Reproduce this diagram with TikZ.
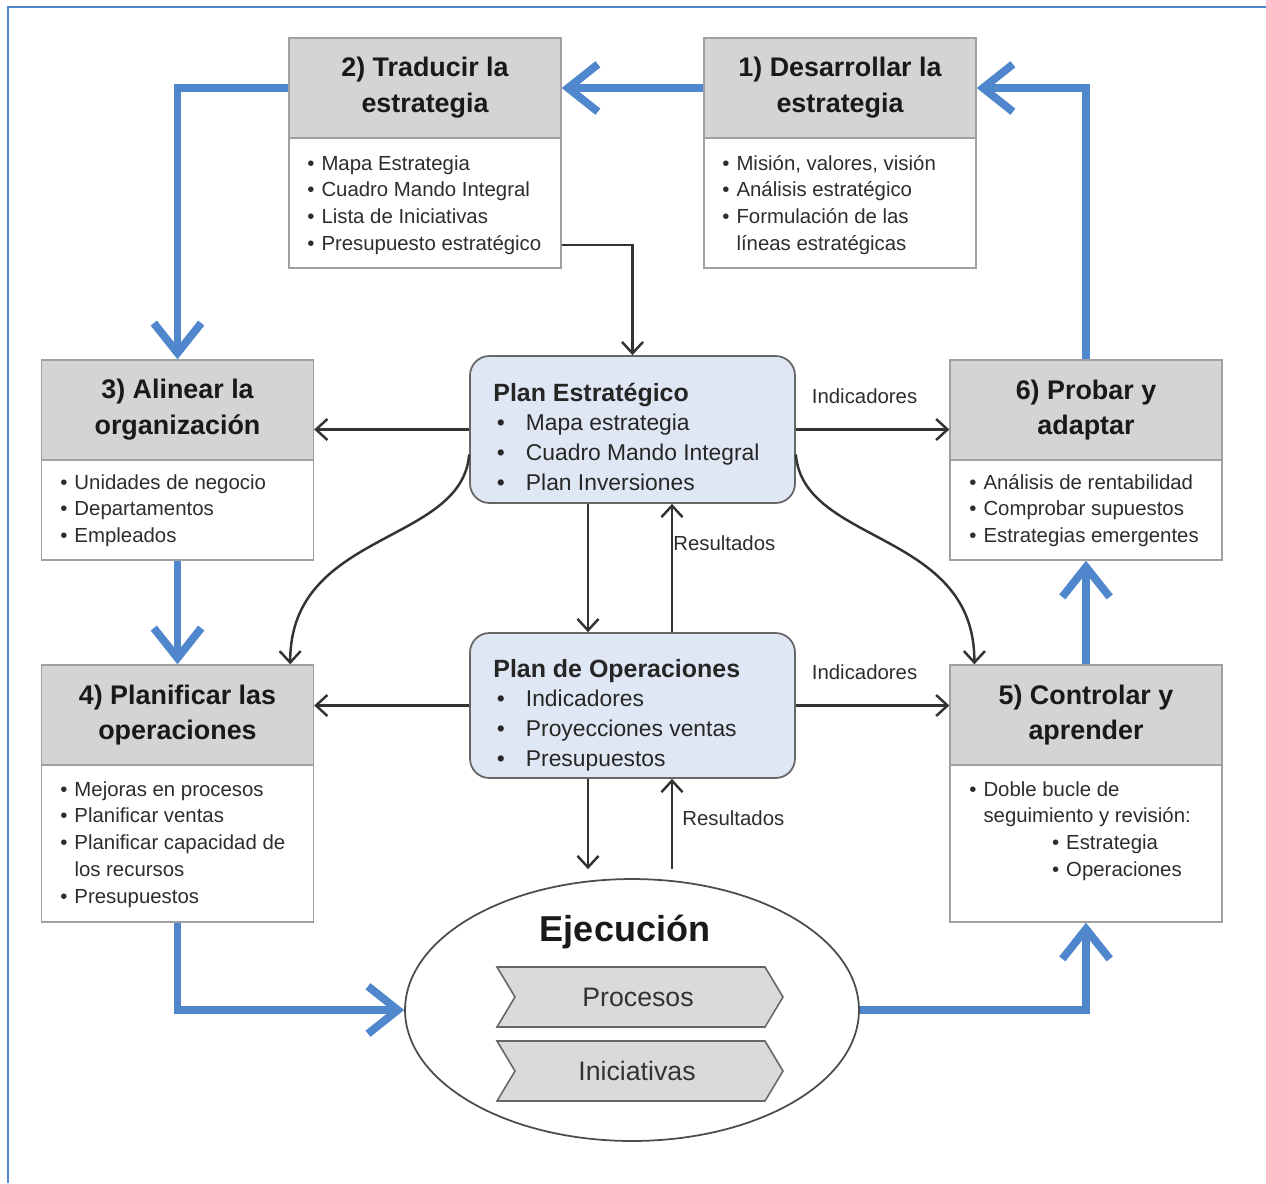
\documentclass[tikz,border=0pt]{standalone}
\usepackage{fontspec}
\setmainfont{Liberation Sans}
\usetikzlibrary{arrows.meta,shapes.geometric,calc}
\definecolor{bl}{RGB}{79,134,204}
\definecolor{hdrgray}{RGB}{212,212,212}
\definecolor{edgegray}{RGB}{160,160,160}
\definecolor{planfill}{RGB}{222,231,243}
\definecolor{txt}{RGB}{45,45,45}
\definecolor{chevfill}{RGB}{218,218,218}
\begin{document}
\begin{tikzpicture}[x=0.02cm,y=-0.02cm,
  hdr/.style={draw=edgegray, line width=0.8pt, fill=hdrgray, minimum width=5.44cm, minimum height=2cm,
    align=center, inner sep=0, text=black!90, font=\fontsize{15.3}{20.4}\selectfont\bfseries},
  bodyb/.style={draw=edgegray, line width=0.8pt, fill=white, minimum width=5.44cm, inner sep=0},
  btxt/.style={anchor=base west, inner sep=0, text=txt, font=\fontsize{11.6}{15.3}\selectfont},
  ptxt/.style={anchor=base west, inner sep=0, text=black!85, font=\fontsize{13}{17}\selectfont},
  plan/.style={draw=black!60, line width=1pt, fill=planfill, rounded corners=11pt, inner sep=0,
    minimum width=6.5cm},
  lbl/.style={inner sep=0, text=txt, font=\fontsize{11.6}{14}\selectfont},
  barrow/.style={draw=bl, line width=4.5pt, -{Straight Barb[length=17pt,width=27pt]}},
  blk/.style={draw=black!80, line width=1.4pt, -{Straight Barb[length=6.5pt,width=12pt]}},
  chev/.style={draw=black!60, line width=0.9pt, fill=chevfill},
  chtxt/.style={inner sep=0, text=black!80, font=\fontsize{15.2}{18}\selectfont}
]
\useasboundingbox (0,0) rectangle (1266,1183);
% frame
\draw[bl, line width=1.7pt] (8,1183) -- (8,7) -- (1266,7);

% ---- boxes: headers and bodies
\node[hdr] (h2) at (425,88) {2) Traducir la\\estrategia};
\node[bodyb, minimum height=2.6cm] (b2) at (425,203) {};
\node[btxt] (t2) at (307,170) {\begin{tabular}[t]{@{}l@{\hspace{4pt}}l@{}}•&Mapa Estrategia\\•&Cuadro Mando Integral\\•&Lista de Iniciativas\\•&Presupuesto estratégico\end{tabular}};

\node[hdr] (h1) at (840,88) {1) Desarrollar la\\estrategia};
\node[bodyb, minimum height=2.6cm] (b1) at (840,203) {};
\node[btxt] (t1) at (722,170) {\begin{tabular}[t]{@{}l@{\hspace{4pt}}l@{}}•&Misión, valores, visión\\•&Análisis estratégico\\•&Formulación de las\\&líneas estratégicas\end{tabular}};

\node[hdr] (h3) at (177.5,410) {3) Alinear la\\organización};
\node[bodyb, minimum height=2cm] (b3) at (177.5,510) {};
\node[btxt] (t3) at (60,489) {\begin{tabular}[t]{@{}l@{\hspace{4pt}}l@{}}•&Unidades de negocio\\•&Departamentos\\•&Empleados\end{tabular}};

\node[hdr] (h6) at (1086,410) {6) Probar y\\adaptar};
\node[bodyb, minimum height=2cm] (b6) at (1086,510) {};
\node[btxt] (t6) at (969,489) {\begin{tabular}[t]{@{}l@{\hspace{4pt}}l@{}}•&Análisis de rentabilidad\\•&Comprobar supuestos\\•&Estrategias emergentes\end{tabular}};

\node[hdr] (h4) at (177.5,715) {4) Planificar las\\operaciones};
\node[bodyb, minimum height=3.14cm] (b4) at (177.5,843.5) {};
\node[btxt] (t4) at (60,796) {\begin{tabular}[t]{@{}l@{\hspace{4pt}}l@{}}•&Mejoras en procesos\\•&Planificar ventas\\•&Planificar capacidad de\\&los recursos\\•&Presupuestos\end{tabular}};

\node[hdr] (h5) at (1086,715) {5) Controlar y\\aprender};
\node[bodyb, minimum height=3.14cm] (b5) at (1086,843.5) {};
\node[btxt] (t5) at (969,796) {\begin{tabular}[t]{@{}l@{\hspace{4pt}}l@{}}•&Doble bucle de\\&seguimiento y revisión:\\&\hspace{39pt}•\hspace{4pt}Estrategia\\&\hspace{39pt}•\hspace{4pt}Operaciones\end{tabular}};

% ---- plan boxes
\node[plan, minimum height=2.94cm] (pe) at (632.5,429.5) {};
\node[ptxt] (tpe) at (493,401) {\begin{tabular}[t]{@{}l@{\hspace{12pt}}l@{}}\multicolumn{2}{@{}l@{}}{\fontsize{14.2}{17}\selectfont\bfseries Plan Estratégico}\\\hspace{2pt}•&Mapa estrategia\\\hspace{2pt}•&Cuadro Mando Integral\\\hspace{2pt}•&Plan Inversiones\end{tabular}};

\node[plan, minimum height=2.9cm] (po) at (632.5,705.5) {};
\node[ptxt] (tpo) at (493,677) {\begin{tabular}[t]{@{}l@{\hspace{12pt}}l@{}}\multicolumn{2}{@{}l@{}}{\fontsize{14.2}{17}\selectfont\bfseries Plan de Operaciones}\\\hspace{2pt}•&Indicadores\\\hspace{2pt}•&Proyecciones ventas\\\hspace{2pt}•&Presupuestos\end{tabular}};

% ---- execution ellipse
\node[draw=black!70, line width=1pt, ellipse, fill=white, minimum width=9.08cm, minimum height=5.24cm, inner sep=0] (ex) at (632,1010) {};
\node[inner sep=0, font=\fontsize{20.5}{24}\selectfont\bfseries, text=black!90] (ej) at (625,932) {Ejecución};
\draw[chev] (497,967) -- (765,967) -- (783,997) -- (765,1027) -- (497,1027) -- (515,997) -- cycle;
\node[chtxt] (pr) at (638,997) {Procesos};
\draw[chev] (497,1041) -- (765,1041) -- (783,1071) -- (765,1101) -- (497,1101) -- (515,1071) -- cycle;
\node[chtxt] (in) at (637,1071) {Iniciativas};

% ---- blue cycle arrows
\draw[barrow] (h1.west) -- (h2.east);
\draw[barrow] (h2.west) -| (h3.north);
\draw[barrow] (b3.south) -- (h4.north);
\draw[barrow] (b4.south) |- (ex.west);
\draw[barrow] (ex.east) -| (b5.south);
\draw[barrow] (h5.north) -- (b6.south);
\draw[barrow] (h6.north) |- (h1.east);

% ---- black arrows
\draw[blk] ([yshift=-0.84cm]b2.east) -| (pe.north);
\draw[blk] (pe.west) -- (pe.west -| h3.east);
\draw[blk] (pe.east) -- node[lbl, above=14pt, xshift=-0.16cm] (ind1) {Indicadores} (pe.east -| h6.west);
\draw[blk] ([yshift=-0.5cm]pe.west) .. controls (462,545) and (290,530) .. ([xshift=-0.48cm]h4.north east);
\draw[blk] ([yshift=-0.5cm]pe.east) .. controls (803,545) and (975,530) .. ([xshift=0.5cm]h5.north west);
\draw[blk] ([xshift=-0.89cm]pe.south) -- ([xshift=-0.89cm]po.north);
\draw[blk] ([xshift=0.79cm]po.north) -- ([xshift=0.79cm]pe.south);
\node[lbl, anchor=west] (res1) at (673,543) {Resultados};
\draw[blk] (po.west) -- (po.west -| h4.east);
\draw[blk] (po.east) -- node[lbl, above=14pt, xshift=-0.16cm] (ind2) {Indicadores} (po.east -| h5.west);
\draw[blk] ([xshift=-0.89cm]po.south) -- ([xshift=-0.89cm,yshift=0.18cm]po.south |- ex.north);
\draw[blk] ([xshift=0.79cm,yshift=0.18cm]po.south |- ex.north) -- ([xshift=0.79cm]po.south);
\node[lbl, anchor=west] (res2) at (682,818) {Resultados};
\end{tikzpicture}
\end{document}
